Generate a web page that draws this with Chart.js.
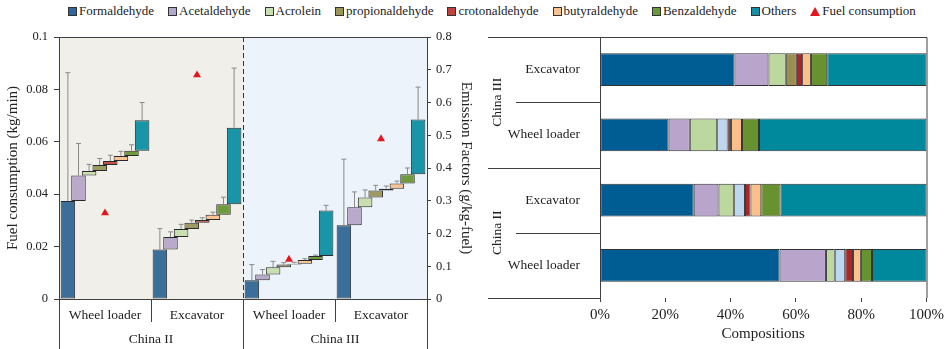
<!DOCTYPE html>
<html lang="en">
<head>
<meta charset="UTF-8">
<title>Carbonyl emission factors and compositions</title>
<script src="https://cdn.jsdelivr.net/npm/chart.js@4.4.1/dist/chart.umd.min.js"></script>
<style>
  body { margin: 0; width: 948px; height: 349px; background: #fff; position: relative; overflow: hidden;
         font-family: "Liberation Serif", "Times New Roman", serif; }
  #legend { position: absolute; top: 3px; left: 68px; display: flex; gap: 14px; font-size: 13px; color: #222; white-space: nowrap; }
  #legend .item { display: flex; align-items: center; }
  #legend .box { width: 7px; height: 7px; border: 1px solid #333; margin-right: 2px; }
  #legend .tri { width: 0; height: 0; border-left: 5px solid transparent; border-right: 5px solid transparent;
                 border-bottom: 9px solid #e3161d; margin-right: 2px; }
  #left { position: absolute; left: 0; top: 0; }
  #right { position: absolute; left: 480px; top: 0; }
</style>
</head>
<body>
<div id="legend"></div>
<canvas id="left" width="480" height="349"></canvas>
<canvas id="right" width="468" height="349"></canvas>

<script>
// ---- data ----
var species = ['Formaldehyde', 'Acetaldehyde', 'Acrolein', 'propionaldehyde', 'crotonaldehyde', 'butyraldehyde', 'Benzaldehyde', 'Others'];
var groups = ['Wheel loader', 'Excavator', 'Wheel loader', 'Excavator'];
var standards = ['China II', 'China III'];

// emission factors (g/kg-fuel): CII wheel loader, CII excavator, CIII wheel loader, CIII excavator
var efFormaldehyde    = [0.299, 0.151, 0.057, 0.225];
var efAcetaldehyde    = [0.078, 0.038, 0.018, 0.055];
var efAcrolein        = [0.014, 0.025, 0.022, 0.030];
var efPropionaldehyde = [0.018, 0.019, 0.008, 0.021];
var efCrotonaldehyde  = [0.012, 0.008, 0.003, 0.006];
var efButyraldehyde   = [0.016, 0.016, 0.011, 0.016];
var efBenzaldehyde    = [0.016, 0.032, 0.012, 0.028];
var efOthers          = [0.093, 0.234, 0.139, 0.167];

// standard deviations (upper error bars)
var sdFormaldehyde    = [0.392, 0.064, 0.048, 0.202];
var sdAcetaldehyde    = [0.098, 0.016, 0.015, 0.047];
var sdAcrolein        = [0.020, 0.014, 0.018, 0.023];
var sdPropionaldehyde = [0.020, 0.008, 0.006, 0.016];
var sdCrotonaldehyde  = [0.018, 0.007, 0.004, 0.008];
var sdButyraldehyde   = [0.014, 0.008, 0.004, 0.007];
var sdBenzaldehyde    = [0.018, 0.022, 0.003, 0.019];
var sdOthers          = [0.054, 0.182, 0.016, 0.099];

// fuel consumption (kg/min)
var fuel = [0.0328, 0.0855, 0.0151, 0.0611];

// compositions (%), bars from top to bottom
var compLabels = ['Excavator', 'Wheel loader', 'Excavator', 'Wheel loader'];
var compFormaldehyde    = [41.2, 21.0, 28.7, 55.0];
var compAcetaldehyde    = [10.4, 6.5, 7.6, 14.2];
var compAcrolein        = [5.3, 8.4, 4.8, 2.7];
var compPropionaldehyde = [3.4, 3.2, 3.3, 3.2];
var compCrotonaldehyde  = [1.6, 1.0, 1.7, 2.4];
var compButyraldehyde   = [2.7, 3.4, 3.3, 2.4];
var compBenzaldehyde    = [5.0, 5.2, 5.9, 3.4];
var compOthers          = [30.4, 51.3, 44.7, 16.7];
var pctTicks = ['0%', '20%', '40%', '60%', '80%', '100%'];

var efs = [efFormaldehyde, efAcetaldehyde, efAcrolein, efPropionaldehyde, efCrotonaldehyde, efButyraldehyde, efBenzaldehyde, efOthers];
var sds = [sdFormaldehyde, sdAcetaldehyde, sdAcrolein, sdPropionaldehyde, sdCrotonaldehyde, sdButyraldehyde, sdBenzaldehyde, sdOthers];
var comps = [compFormaldehyde, compAcetaldehyde, compAcrolein, compPropionaldehyde, compCrotonaldehyde, compButyraldehyde, compBenzaldehyde, compOthers];

// ---- colours ----
var legendColors = ['#2f66a0', '#b6a8cc', '#c7e0b0', '#9a9656', '#c0403e', '#f6c393', '#6a9a3a', '#168fa3'];
var leftColors   = ['#3b6f99', '#b9aacb', '#c9dfb2', '#9d9a62', '#c4504c', '#f8c491', '#6f9b3e', '#1895a6'];
var rightColors  = ['#005d93', '#b9a4cc', '#bdd89e', '#9a8e52', '#a8282a', '#fbbf8a', '#67922f', '#00889d'];
var lightBlue = '#bcd7ef';

var FONT = '"Liberation Serif", "Times New Roman", serif';
Chart.defaults.font.family = FONT;
Chart.defaults.color = '#222';

function plain(v) { return String(Number(v.toFixed(3))); }

// ---- legend ----
var legend = document.getElementById('legend');
species.forEach(function (s, i) {
    legend.innerHTML += '<span class="item"><span class="box" style="background:' + legendColors[i] + '"></span>' + s + '</span>';
});
legend.innerHTML += '<span class="item"><span class="tri"></span>Fuel consumption</span>';

// ---- left chart: waterfall of emission factors ----
var cum = [0, 0, 0, 0];
var tops = [];
var barSets = species.map(function (s, i) {
    var data = efs[i].map(function (v, j) {
        var lo = cum[j];
        cum[j] = lo + v;
        return [lo, cum[j]];
    });
    tops.push(cum.slice());
    return {
        type: 'bar', label: s, data: data, yAxisID: 'y1', xAxisID: 'x', order: 1,
        backgroundColor: leftColors[i], borderColor: '#2a2a2a', borderWidth: 1, borderSkipped: false,
        categoryPercentage: 0.922, barPercentage: 1.37
    };
});

var leftFrame = {
    id: 'leftFrame',
    beforeDraw: function (chart) {
        var a = chart.chartArea, ctx = chart.ctx;
        var mid = chart.scales.x.getPixelForValue(1.5);
        ctx.save();
        ctx.fillStyle = '#f0efe9';
        ctx.fillRect(a.left, a.top, mid - a.left, a.bottom - a.top);
        ctx.fillStyle = '#edf3fa';
        ctx.fillRect(mid, a.top, a.right - mid, a.bottom - a.top);
        ctx.restore();
    },
    afterDatasetsDraw: function (chart) {
        var ctx = chart.ctx, y1 = chart.scales.y1;
        ctx.save();
        ctx.strokeStyle = '#8a8a8a';
        ctx.lineWidth = 1;
        species.forEach(function (s, i) {
            chart.getDatasetMeta(i).data.forEach(function (bar, j) {
                var top = y1.getPixelForValue(tops[i][j] + sds[i][j]);
                ctx.beginPath();
                ctx.moveTo(bar.x, y1.getPixelForValue(tops[i][j]));
                ctx.lineTo(bar.x, top);
                ctx.moveTo(bar.x - 2.5, top);
                ctx.lineTo(bar.x + 2.5, top);
                ctx.stroke();
            });
        });
        ctx.restore();
    },
    afterDraw: function (chart) {
        var a = chart.chartArea, ctx = chart.ctx, x = chart.scales.x;
        var h = chart.height;
        ctx.save();
        ctx.strokeStyle = '#404040';
        ctx.lineWidth = 1;
        // top border
        ctx.beginPath();
        ctx.moveTo(a.left, a.top + 0.5);
        ctx.lineTo(a.right, a.top + 0.5);
        ctx.stroke();
        // group separators under the axis
        [-0.5, 0.5, 1.5, 2.5, 3.5].forEach(function (v, k) {
            var px = Math.round(x.getPixelForValue(v)) + 0.5;
            var long = (k % 2 === 0);
            ctx.beginPath();
            ctx.moveTo(px, a.bottom);
            ctx.lineTo(px, long ? h : a.bottom + 23);
            ctx.stroke();
        });
        // dashed divider between China II and China III
        var mid = Math.round(x.getPixelForValue(1.5)) + 0.5;
        ctx.setLineDash([5, 3]);
        ctx.strokeStyle = '#333';
        ctx.beginPath();
        ctx.moveTo(mid, a.top);
        ctx.lineTo(mid, a.bottom);
        ctx.stroke();
        ctx.restore();
    }
};

new Chart(document.getElementById('left'), {
    type: 'bar',
    data: {
        labels: groups,
        datasets: barSets.concat([{
            type: 'line', label: 'Fuel consumption', data: fuel, yAxisID: 'y', xAxisID: 'x', order: 0,
            showLine: false, pointStyle: 'triangle', pointRadius: 4.6,
            pointBackgroundColor: '#e3161d', pointBorderColor: '#e3161d', pointBorderWidth: 0
        }])
    },
    options: {
        responsive: false,
        animation: false,
        layout: { padding: { top: 37 } },
        plugins: { legend: { display: false }, tooltip: { enabled: false } },
        scales: {
            x: {
                type: 'category', offset: true, weight: 1,
                grid: { display: false, drawTicks: false, tickLength: 0 },
                border: { display: true, color: '#404040' },
                ticks: { font: { size: 13.5 }, padding: 8, maxRotation: 0, autoSkip: false },
                afterFit: function (s) { s.height = 24; }
            },
            x2: {
                type: 'category', labels: standards, offset: true, position: 'bottom', weight: 2,
                grid: { display: false, drawTicks: false, tickLength: 0 },
                border: { display: false },
                ticks: { font: { size: 13.5 }, padding: 8, maxRotation: 0 },
                afterFit: function (s) { s.height = 26; }
            },
            y: {
                position: 'left', min: 0, max: 0.1,
                ticks: { stepSize: 0.02, padding: 6, font: { size: 12.5 }, callback: plain },
                grid: { drawOnChartArea: false, tickLength: 5, color: '#404040' },
                border: { color: '#404040' },
                title: { display: true, text: 'Fuel consumption (kg/min)', font: { size: 15 }, padding: { top: 4, bottom: 0 } },
                afterFit: function (s) { s.width = 59; }
            },
            y1: {
                position: 'right', min: 0, max: 0.8,
                ticks: { stepSize: 0.1, padding: 5, font: { size: 12.5 }, callback: plain },
                grid: { drawOnChartArea: false, tickLength: 4, color: '#404040' },
                border: { color: '#404040' },
                title: { display: true, text: 'Emission Factors (g/kg-fuel)', font: { size: 15 }, padding: { top: 5, bottom: 0 } },
                afterFit: function (s) { s.width = 53; }
            }
        }
    },
    plugins: [leftFrame]
});

// ---- right chart: compositions ----
var rightFrame = {
    id: 'rightFrame',
    afterDraw: function (chart) {
        var a = chart.chartArea, ctx = chart.ctx, y = chart.scales.y;
        ctx.save();
        ctx.strokeStyle = '#404040';
        ctx.lineWidth = 1;
        ctx.beginPath();
        ctx.moveTo(8, a.top + 0.5);
        ctx.lineTo(a.right + 0.5, a.top + 0.5);
        ctx.lineTo(a.right + 0.5, a.bottom);
        ctx.stroke();
        [0.5, 1.5, 2.5, 3.5].forEach(function (v, k) {
            var py = Math.round(y.getPixelForValue(v)) + 0.5;
            ctx.beginPath();
            ctx.moveTo(k % 2 === 0 ? 36 : 8, py);
            ctx.lineTo(a.left, py);
            ctx.stroke();
        });
        // China III / China II
        ctx.fillStyle = '#222';
        ctx.font = '13.5px ' + FONT;
        ctx.textAlign = 'center';
        ctx.textBaseline = 'middle';
        [[standards[1], -0.5, 1.5], [standards[0], 1.5, 3.5]].forEach(function (g) {
            var cy = (y.getPixelForValue(g[1]) + y.getPixelForValue(g[2])) / 2;
            ctx.save();
            ctx.translate(17, cy);
            ctx.rotate(-Math.PI / 2);
            ctx.fillText(g[0], 0, 0);
            ctx.restore();
        });
        ctx.restore();
    }
};

new Chart(document.getElementById('right'), {
    type: 'bar',
    data: {
        labels: compLabels,
        datasets: species.map(function (s, i) {
            var bg = rightColors[i];
            if (i === 3) bg = [rightColors[3], lightBlue, lightBlue, lightBlue];
            return {
                label: s, data: comps[i], backgroundColor: bg,
                borderColor: '#333', borderWidth: 1, borderSkipped: false,
                categoryPercentage: 1, barPercentage: 0.5
            };
        })
    },
    options: {
        indexAxis: 'y',
        responsive: false,
        animation: false,
        layout: { padding: { top: 37, right: 21 } },
        plugins: { legend: { display: false }, tooltip: { enabled: false } },
        scales: {
            x: {
                stacked: true, min: 0, max: 100,
                ticks: { stepSize: 20, padding: 4, font: { size: 15 },
                         callback: function (v, i) { return pctTicks[i]; } },
                grid: { drawOnChartArea: false, tickLength: 4, color: '#404040' },
                border: { display: false },
                title: { display: true, text: 'Compositions', font: { size: 15 }, padding: { top: 0, bottom: 6 } },
                afterFit: function (s) { s.height = 51; }
            },
            y: {
                stacked: true,
                grid: { display: false },
                border: { color: '#404040' },
                ticks: { padding: 12, font: { size: 13.5 } },
                afterFit: function (s) { s.width = 120; }
            }
        }
    },
    plugins: [rightFrame]
});
</script>
</body>
</html>
